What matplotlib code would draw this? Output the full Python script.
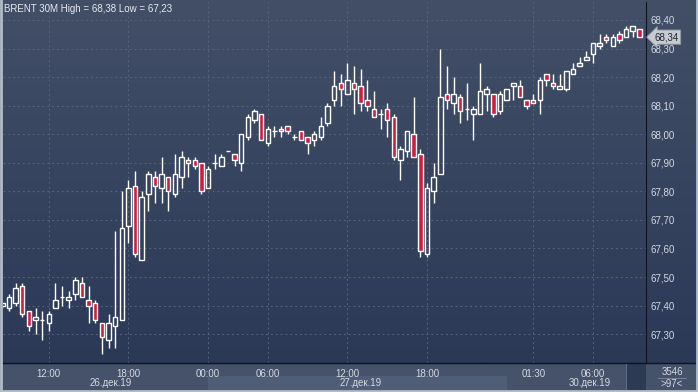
import numpy as np
import matplotlib
matplotlib.use("Agg")
import matplotlib.pyplot as plt
import matplotlib.ticker as ticker
import matplotlib.transforms as mtransforms
from matplotlib.colors import LinearSegmentedColormap
from matplotlib.patches import Rectangle
from matplotlib.lines import Line2D

plt.rcParams['font.family'] = ['Liberation Sans', 'DejaVu Sans']

# BRENT 30M candles, 26.12.19 08:30 .. 30.12.19 08:00
opens = [67.40, 67.39, 67.41, 67.47, 67.38, 67.35, 67.35, 67.34, 67.39, 67.43,
         67.42, 67.44, 67.48, 67.42, 67.41, 67.34, 67.28, 67.33, 67.35, 67.68,
         67.82, 67.56, 67.79, 67.85, 67.81, 67.85, 67.79, 67.85, 67.91, 67.91,
         67.90, 67.81, 67.90, 67.89, 67.94, 67.93, 67.90, 67.99, 68.05, 68.07,
         67.97, 68.01, 68.02, 68.03, 67.99, 68.01, 67.99, 67.98, 67.99, 68.04,
         68.12, 68.18, 68.14, 68.18, 68.17, 68.12, 68.09, 68.07, 68.09, 68.06,
         67.91, 67.94, 68.00, 67.93, 67.58, 67.80, 67.86, 68.14, 68.11, 68.13,
         68.09, 68.07, 68.07, 68.14, 68.14, 68.08, 68.12, 68.17, 68.17, 68.12,
         68.12, 68.12, 68.21, 68.18, 68.16, 68.16, 68.21, 68.24, 68.26, 68.28,
         68.31, 68.34, 68.31, 68.35, 68.34, 68.36, 68.37]
highs = [67.41, 67.44, 67.48, 67.48, 67.38, 67.39, 67.38, 67.38, 67.48, 67.47,
         67.45, 67.50, 67.50, 67.47, 67.42, 67.34, 67.37, 67.66, 67.80, 67.84,
         67.87, 67.80, 67.87, 67.87, 67.92, 67.85, 67.93, 67.94, 67.92, 67.92,
         67.90, 67.89, 67.93, 67.93, 67.94, 67.93, 68.00, 68.07, 68.09, 68.07,
         68.03, 68.03, 68.03, 68.03, 68.00, 68.01, 67.99, 68.01, 68.06, 68.11,
         68.22, 68.21, 68.25, 68.24, 68.23, 68.19, 68.15, 68.09, 68.11, 68.07,
         67.96, 68.01, 68.13, 67.95, 67.83, 67.90, 68.30, 68.24, 68.20, 68.14,
         68.18, 68.10, 68.25, 68.17, 68.14, 68.15, 68.16, 68.18, 68.19, 68.12,
         68.14, 68.20, 68.21, 68.21, 68.21, 68.22, 68.25, 68.27, 68.29, 68.32,
         68.35, 68.35, 68.35, 68.36, 68.38, 68.38, 68.37]
lows = [67.39, 67.38, 67.40, 67.36, 67.31, 67.30, 67.28, 67.31, 67.39, 67.40,
        67.39, 67.42, 67.43, 67.34, 67.34, 67.23, 67.25, 67.25, 67.35, 67.62,
        67.57, 67.56, 67.73, 67.76, 67.76, 67.73, 67.78, 67.81, 67.85, 67.88,
        67.79, 67.81, 67.88, 67.89, 67.94, 67.89, 67.87, 67.98, 68.04, 67.98,
        67.96, 67.99, 67.99, 68.00, 67.98, 67.98, 67.93, 67.96, 67.98, 68.03,
        68.10, 68.10, 68.14, 68.07, 68.08, 68.08, 68.06, 68.02, 67.99, 67.91,
        67.84, 67.92, 67.92, 67.57, 67.57, 67.76, 67.86, 68.09, 68.07, 68.04,
        68.05, 67.98, 68.07, 68.08, 68.06, 68.07, 68.12, 68.12, 68.13, 68.09,
        68.11, 68.07, 68.17, 68.16, 68.16, 68.15, 68.21, 68.24, 68.26, 68.25,
        68.30, 68.32, 68.31, 68.32, 68.34, 68.34, 68.34]
closes = [67.41, 67.43, 67.46, 67.37, 67.33, 67.36, 67.35, 67.37, 67.42, 67.43,
          67.43, 67.49, 67.43, 67.40, 67.35, 67.29, 67.34, 67.36, 67.67, 67.81,
          67.58, 67.78, 67.86, 67.82, 67.86, 67.80, 67.86, 67.92, 67.90, 67.89,
          67.80, 67.88, 67.90, 67.92, 67.94, 67.91, 68.00, 68.06, 68.08, 67.98,
          68.02, 68.01, 68.01, 68.01, 67.99, 67.98, 67.97, 68.00, 68.03, 68.10,
          68.17, 68.16, 68.19, 68.16, 68.11, 68.10, 68.06, 68.07, 68.05, 67.92,
          67.95, 68.01, 67.92, 67.59, 67.81, 67.85, 68.13, 68.12, 68.14, 68.08,
          68.09, 68.09, 68.15, 68.16, 68.07, 68.14, 68.16, 68.18, 68.13, 68.10,
          68.11, 68.19, 68.19, 68.17, 68.17, 68.22, 68.23, 68.25, 68.27, 68.32,
          68.32, 68.33, 68.34, 68.33, 68.37, 68.38, 68.34]

time_ticks = [7, 19, 31, 40, 52, 64, 80, 89]
time_labels = ["12:00", "18:00", "00:00", "06:00", "12:00", "18:00", "01:30", "06:00"]
date_pos = [16.3, 54, 88.5]
date_labels = ["26.дек.19", "27.дек.19", "30.дек.19"]
day_band = (31, 76)

W, H = 698, 392
TXT = "#d3d9e2"
RED = "#d11c40"


def px_box(x0, y0, x1, y1):
    return [x0 / W, 1 - y1 / H, (x1 - x0) / W, (y1 - y0) / H]


fig = plt.figure(figsize=(W / 100, H / 100), dpi=100)
fig.patch.set_facecolor("#45526a")

# gradient behind chart and price scale
bg = fig.add_axes(px_box(0, 0, W, 363))
bg.axis("off")
cmap = LinearSegmentedColormap.from_list("bg", ["#434f67", "#2b3957"])
bg.imshow(np.linspace(0, 1, 256).reshape(-1, 1), aspect="auto", cmap=cmap,
          extent=[0, 1, 0, 1])

ax = fig.add_axes(px_box(3, 2, 646, 363))
ax.set_facecolor("none")
for s in ["top", "left"]:
    ax.spines[s].set_visible(False)
ax.spines["right"].set_color("#0d1320")
ax.spines["bottom"].set_color("#0d1320")

x = np.arange(len(opens))
w = 0.68
for i, o, h, l, c in zip(x, opens, highs, lows, closes):
    top, bot = max(o, c), min(o, c)
    if h > top:
        ax.vlines(i, top, h, color="white", lw=1, zorder=3)
    if l < bot:
        ax.vlines(i, l, bot, color="white", lw=1, zorder=3)
    if c == o:
        ax.hlines(o, i - w / 2, i + w / 2, color="white", lw=1, zorder=3)
    else:
        fc = RED if c < o else "none"
        ax.add_patch(Rectangle((i - w / 2, bot), w, top - bot, fc=fc,
                               ec="white", lw=1, zorder=3))

ax.set_xlim(0.1, 97.0)
ax.set_ylim(67.199, 68.463)
ax.set_yticks(np.arange(67.3, 68.41, 0.1))
ax.yaxis.set_major_formatter(ticker.FuncFormatter(lambda v, p: f"{v:.2f}".replace(".", ",")))
ax.yaxis.tick_right()
ax.tick_params(axis="y", length=0, pad=3, labelsize=7, labelcolor=TXT)
ax.set_xticks(time_ticks, time_labels)
ax.tick_params(axis="x", length=0, pad=4, labelsize=7, labelcolor=TXT)
ax.grid(True, color="#56637d", lw=0.7, ls=(0, (2, 3)))
ax.set_axisbelow(True)

# date row with highlighted day
trans = mtransforms.blended_transform_factory(ax.transData, ax.transAxes)
ax.add_patch(Rectangle((day_band[0], -27 / 361), day_band[1] - day_band[0], 14 / 361,
                       transform=trans, fc="#4f5d77", ec="none", clip_on=False, zorder=0))
for p, lab in zip(date_pos, date_labels):
    ax.text(p, -20 / 361, lab, transform=trans, ha="center", va="center",
            fontsize=7, color=TXT, clip_on=False)

# last price tag
ax.annotate(f"{closes[-1]:.2f}".replace(".", ","), xy=(1.0, closes[-1]),
            xycoords=("axes fraction", "data"), xytext=(6, 0), textcoords="offset points",
            ha="left", va="center", fontsize=7, color="#1c2230", annotation_clip=False,
            bbox=dict(boxstyle="larrow,pad=0.22", fc="#c6cad1", ec="#8d939d", lw=0.6))

fig.text(4 / W, 1 - 9 / H, "BRENT 30M High = 68,38 Low = 67,23", ha="left", va="center",
         fontsize=7, color="#e6ebf1")

# bottom bar details
fig.add_artist(Line2D([0, 1], [1 - 363 / H] * 2, color="#0d1320", lw=1))
fig.add_artist(Rectangle((627 / W, 1 - 390 / H), 19 / W, 26 / H, fc="#2d3a54", ec="none"))
fig.add_artist(Line2D([626 / W] * 2, [1 - 390 / H, 1 - 364 / H], color="#5d6b84", lw=0.8))
fig.text(672 / W, 1 - 372 / H, "3546", ha="center", va="center", fontsize=7, color=TXT)
fig.add_artist(Line2D([658 / W, 686 / W], [1 - 378 / H] * 2, color="#7d8aa0", lw=0.6))
fig.text(672 / W, 1 - 384 / H, ">97<", ha="center", va="center", fontsize=7, color=TXT)

# window frame
for xs, ys in [([0.5 / W] * 2, [0, 1]), ([0, 1], [1 / H] * 2), ([1 - 1 / W] * 2, [0, 1])]:
    fig.add_artist(Line2D(xs, ys, color="#b3bcc8", lw=2))

fig.savefig("out.png", dpi=100)
